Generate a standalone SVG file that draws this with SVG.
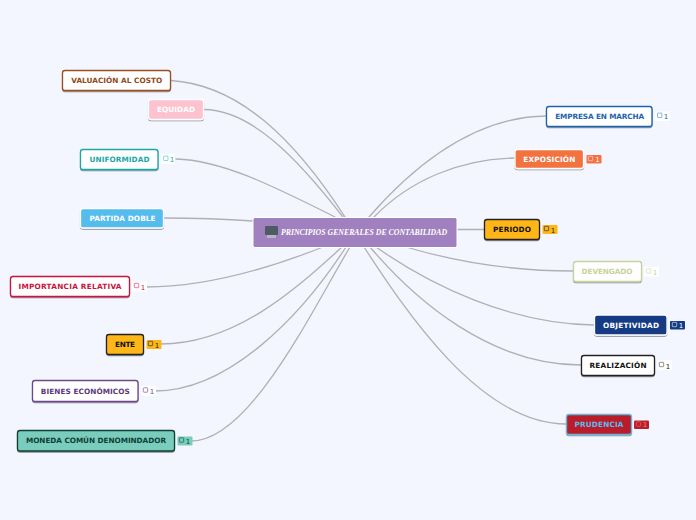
<svg xmlns="http://www.w3.org/2000/svg" width="696" height="520" viewBox="0 0 696 520">
<defs>
<filter id="sh" x="-10%" y="-20%" width="120%" height="150%"><feDropShadow dx="0" dy="1" stdDeviation="0.7" flood-color="#000" flood-opacity="0.45"/></filter>
<g id="nt"><rect x="-2.200" y="-2.200" width="4.400" height="4.400" rx="0.6" fill="none" stroke-width="0.8"/></g>
</defs>
<style>
text{font-family:"DejaVu Sans",sans-serif;font-size:7.300px;font-weight:700;text-anchor:middle}
.c path{fill:none;stroke:#b0b0b4;stroke-width:1.3;stroke-linecap:round}
.n rect.b{stroke-width:1.3;filter:url(#sh)}
.k{font-weight:400;font-size:7px}
</style>
<rect width="696" height="520" fill="#f3f6ff"/>
<g class="c" id="connectors">
<path d="M171 80.500C240 85 295 140 345 217"/>
<path d="M204 109.500C250 110 295 155 343 217"/>
<path d="M176 159C222 160 275 187 335 217"/>
<path d="M253 221C225 219 195 218 164 218"/>
<path d="M323 247C270 268 205 287 146 287"/>
<path d="M342 247C295 290 235 344 161 344"/>
<path d="M346 247C300 318 228 391 155 391"/>
<path d="M350 247C312 310 250 441 191 441"/>
<path d="M369 217C410 170 470 117 546 116"/>
<path d="M374 217C410 180 460 159 515 158"/>
<path d="M457 229.500L484 229.500"/>
<path d="M406 247C450 260 510 271 573 271"/>
<path d="M376 247C430 285 510 324 594 325"/>
<path d="M370 247C415 300 490 365 581 365"/>
<path d="M364 247C405 310 480 424 566 424"/>
</g>
<g id="central"><rect x="253" y="217.500" width="204" height="30" rx="2" fill="#a080be" stroke="#fff" stroke-width="1"/>
<rect x="265" y="226" width="13" height="9" rx="1" fill="#4e5a64"/><rect x="267" y="235" width="9" height="3" fill="#b5b5c5"/>
<text x="364" y="235" style="font-family:'Liberation Serif',serif;font-style:italic;font-size:7.800px" fill="#fff">PRINCIPIOS GENERALES DE CONTABILIDAD</text></g>
<g class="n" id="n1"><rect class="b" x="62.500" y="70.500" width="108" height="20" rx="2.500" fill="#fff" stroke="#9a4f22"/><text x="116.700" y="83" textLength="91" fill="#8f4a20">VALUACIÓN AL COSTO</text></g>
<g class="n" id="n2"><rect class="b" x="148.500" y="99.500" width="55" height="20" rx="2.500" fill="#fdc2d0" stroke="#fff"/><text x="176" y="112.200" textLength="38" fill="#fff">EQUIDAD</text></g>
<g class="n" id="n3"><rect class="b" x="80.500" y="149.500" width="77.500" height="20" rx="2.500" fill="#fff" stroke="#1ea7a7"/><text x="119.500" y="162.200" textLength="60" fill="#1ea7a7">UNIFORMIDAD</text>
<rect x="161" y="154" width="14" height="10" fill="#fff"/><use href="#nt" x="165.800" y="158.300" stroke="#5fd0d0"/><text class="k" x="172" y="162" fill="#1ea7a7">1</text></g>
<g class="n" id="n4"><rect class="b" x="80.500" y="208.500" width="83" height="19.500" rx="2.500" fill="#55bdee" stroke="#fff"/><text x="122.500" y="221.200" textLength="66" fill="#fff">PARTIDA DOBLE</text></g>
<g class="n" id="n5"><rect class="b" x="10.500" y="276.500" width="119" height="20" rx="2.500" fill="#fff" stroke="#c8143c"/><text x="70" y="289.200" textLength="103" fill="#c8143c">IMPORTANCIA RELATIVA</text>
<rect x="132" y="281.500" width="15" height="10" fill="#fff"/><use href="#nt" x="136.500" y="285.500" stroke="#e0607a"/><text class="k" x="143" y="289.500" fill="#c8143c">1</text></g>
<g class="n" id="n6"><rect class="b" x="106.500" y="334.500" width="37" height="20" rx="2.500" fill="#ffb612" stroke="#222"/><text x="125" y="347.200" textLength="20" fill="#111">ENTE</text>
<rect x="146.500" y="340" width="15" height="9" rx="1" fill="#ffb612"/><use href="#nt" x="150.500" y="343.500" stroke="#444"/><text class="k" x="157" y="347.500" fill="#222">1</text></g>
<g class="n" id="n7"><rect class="b" x="32.500" y="380.500" width="105.500" height="21" rx="2.500" fill="#fff" stroke="#6d4a8c"/><text x="85.300" y="394.200" textLength="89" fill="#5c3a7a">BIENES ECONÓMICOS</text>
<rect x="141" y="386" width="15" height="9.500" fill="#fff"/><use href="#nt" x="145.500" y="390" stroke="#8a6aa8"/><text class="k" x="152" y="393.500" fill="#6d4a8c">1</text></g>
<g class="n" id="n8"><rect class="b" x="17.500" y="430.500" width="157" height="20.500" rx="2.500" fill="#7accbc" stroke="#0f3f35"/><text x="96" y="443.200" textLength="140" fill="#0f3f35">MONEDA COMÚN DENOMINDADOR</text>
<rect x="177.500" y="436.500" width="15" height="9" rx="1" fill="#7accbc"/><use href="#nt" x="181.500" y="440" stroke="#1f6a5a"/><text class="k" x="188" y="444" fill="#0f3f35">1</text></g>
<g class="n" id="n9"><rect class="b" x="546.500" y="106.500" width="105.500" height="20" rx="2.500" fill="#fff" stroke="#1f63ad"/><text x="599.700" y="119.200" textLength="89" fill="#1f63ad">EMPRESA EN MARCHA</text>
<rect x="655" y="111.500" width="15" height="9.500" fill="#fff"/><use href="#nt" x="659.700" y="115.300" stroke="#6f9fd0"/><text class="k" x="666" y="119.300" fill="#1f63ad">1</text></g>
<g class="n" id="n10"><rect class="b" x="515" y="149.500" width="68.500" height="19" rx="2.500" fill="#f3733f" stroke="#fff"/><text x="549.300" y="162" textLength="52" fill="#fff">EXPOSICIÓN</text>
<rect x="586.500" y="155" width="15" height="8.500" rx="1" fill="#f3733f"/><use href="#nt" x="590.500" y="158.500" stroke="#fbd"/><text class="k" x="597.500" y="161.500" fill="#fff">1</text></g>
<g class="n" id="n11"><rect class="b" x="484.500" y="219.500" width="55" height="20" rx="2.500" fill="#ffb612" stroke="#222"/><text x="512" y="232.200" textLength="38" fill="#111">PERIODO</text>
<rect x="542.500" y="225" width="15" height="9" rx="1" fill="#ffb612"/><use href="#nt" x="546.500" y="228.500" stroke="#444"/><text class="k" x="553" y="232.500" fill="#222">1</text></g>
<g class="n" id="n12"><rect class="b" x="573.500" y="261.500" width="68" height="20" rx="2.500" fill="#fff" stroke="#c5d49a"/><text x="607" y="274.200" textLength="51" fill="#c5d49a">DEVENGADO</text>
<rect x="644" y="267" width="15" height="9.500" fill="#fff"/><use href="#nt" x="648.500" y="271" stroke="#d5e0b5"/><text class="k" x="655" y="274.500" fill="#c5d49a">1</text></g>
<g class="n" id="n13"><rect class="b" x="594.500" y="315" width="72.500" height="20" rx="2.500" fill="#123a85" stroke="#fff"/><text x="631" y="328.200" textLength="56" fill="#fff">OBJETIVIDAD</text>
<rect x="670" y="321" width="15" height="8.500" rx="1" fill="#123a85"/><use href="#nt" x="674.500" y="324.500" stroke="#ccd"/><text class="k" x="681" y="327.500" fill="#fff">1</text></g>
<g class="n" id="n14"><rect class="b" x="581.500" y="355.500" width="73" height="20" rx="2.500" fill="#fff" stroke="#222"/><text x="618" y="368.200" textLength="57" fill="#111">REALIZACIÓN</text>
<rect x="657" y="360.500" width="15" height="9.500" fill="#fff"/><use href="#nt" x="661.500" y="364.500" stroke="#777"/><text class="k" x="668" y="368.500" fill="#222">1</text></g>
<g class="n" id="n15"><rect class="b" x="566.500" y="414.500" width="65" height="20" rx="2.500" fill="#bb1e2a" stroke="#5fb8e0"/><text x="599" y="427.200" textLength="49" fill="#55bdee">PRUDENCIA</text>
<rect x="634" y="420.500" width="15" height="8.500" rx="1" fill="#bb1e2a"/><use href="#nt" x="638.500" y="424" stroke="#e06060"/><text class="k" x="645" y="427" fill="#e88">1</text></g>
</svg>
